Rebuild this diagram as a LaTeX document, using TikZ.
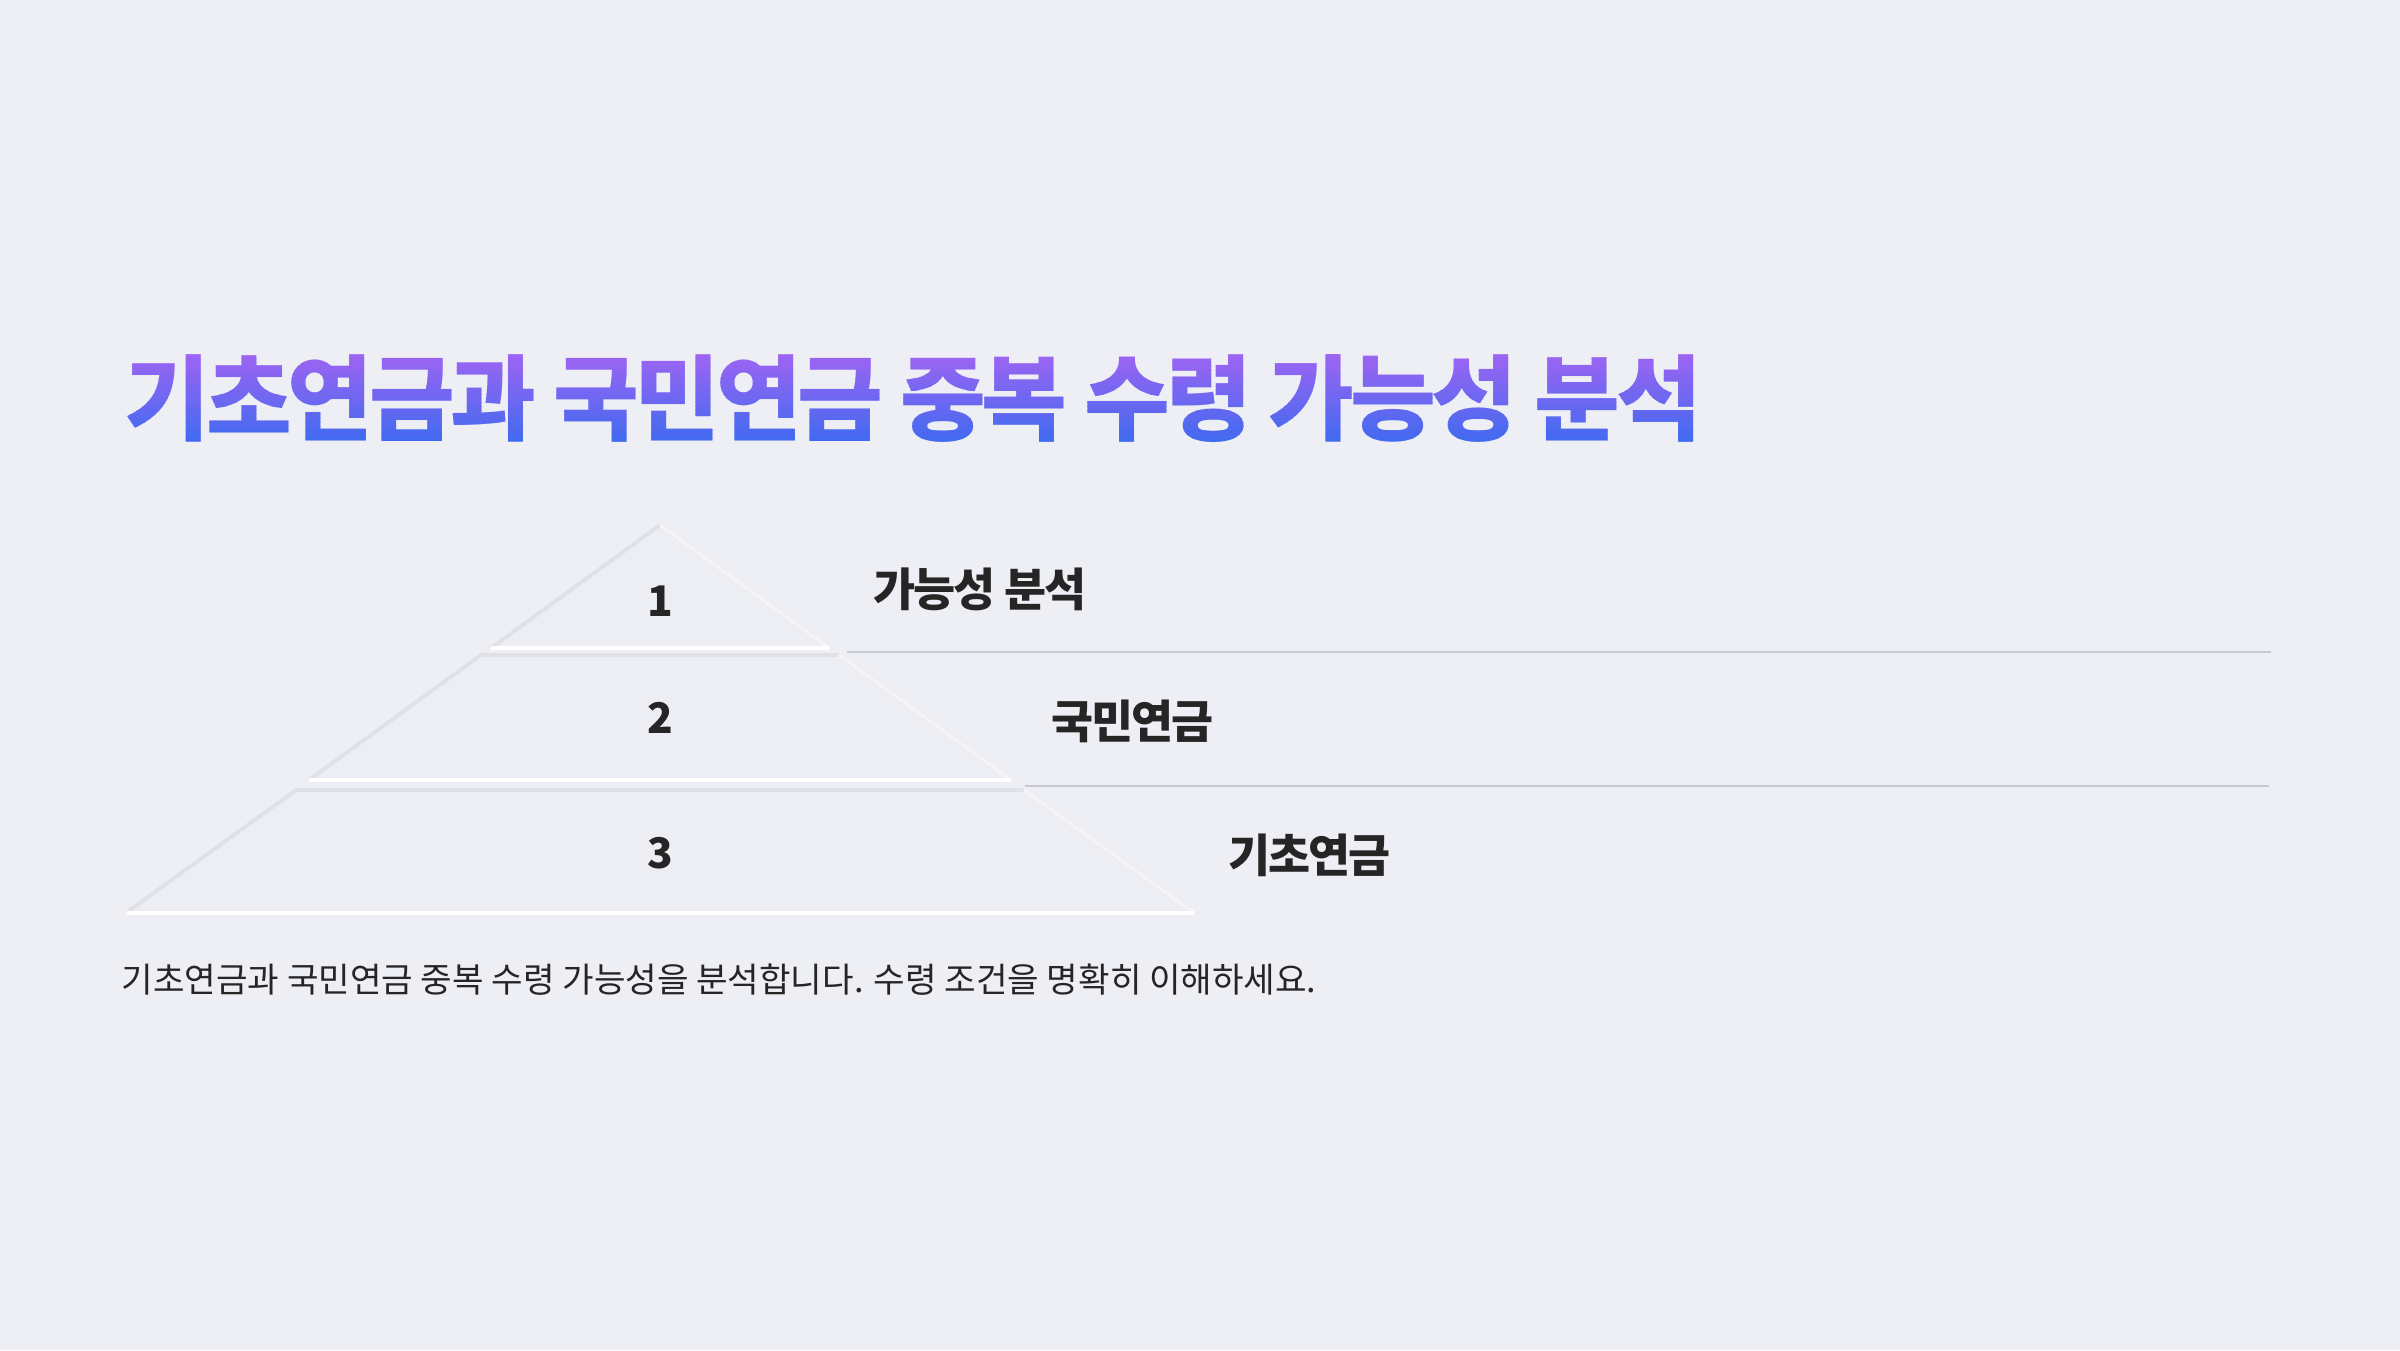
\documentclass[tikz,border=0pt]{standalone}
\usepackage{fontspec}
\setmainfont{Noto Sans CJK KR}
\newfontfamily\krtight[LetterSpace=-4.6]{Noto Sans CJK KR}
\newfontfamily\krlabel[LetterSpace=-4.5]{Noto Sans CJK KR}
\newfontfamily\krnormal{Noto Sans CJK KR}
\definecolor{bgc}{HTML}{EEEFF4}
\definecolor{tierfill}{HTML}{EDEEF3}
\definecolor{tiershade}{HTML}{E0E1E7}
\definecolor{tierlight}{HTML}{F5F5F8}
\definecolor{rulec}{HTML}{C8C9D4}
\definecolor{inkc}{HTML}{252525}
\definecolor{gradtop}{HTML}{A464F2}
\definecolor{gradbot}{HTML}{3E6AF0}
\tikzset{
  titletext/.style={anchor=base west, inner sep=0pt, font=\krtight\bfseries\fontsize{26.5}{30}\selectfont},
  numtext/.style={anchor=base, inner sep=0pt, text=inkc, font=\krnormal\bfseries\fontsize{12}{14}\selectfont},
  labtext/.style={anchor=base west, inner sep=0pt, text=inkc, font=\krlabel\bfseries\fontsize{13}{15}\selectfont},
  bodytext/.style={anchor=base west, inner sep=0pt, text=inkc, font=\krnormal\fontsize{9.75}{12}\selectfont},
  rule/.style={draw=rulec, line width=0.6pt},
  tierbody/.style={fill=tierfill},
  tierglow/.style={fill=tierlight},
  tiertop/.style={draw=tiershade, line width=1.1pt},
  tierbottom/.style={draw=white, line width=1.2pt},
}
\begin{document}
\begin{tikzpicture}[x=0.01cm, y=-0.01cm]
\useasboundingbox[fill=bgc] (0,0) rectangle (2400,1350);

% title: vertical gradient built from clipped horizontal bands
\foreach \i in {0,...,24}{
  \pgfmathsetmacro{\ytop}{346+4*\i}
  \pgfmathsetmacro{\ybot}{346+4*\i+4.6}
  \pgfmathtruncatemacro{\pc}{round(100*\i/24)}
  \begin{scope}
    \clip (0,\ytop) rectangle (2400,\ybot);
    \node[titletext, text=gradbot!\pc!gradtop] at (124,433)
      {기초연금과 국민연금 중복 수령 가능성 분석};
  \end{scope}
}

% pyramid corners
\coordinate (apex) at (660,525);
\coordinate (t1bl) at (491,648); \coordinate (t1br) at (829,648);
\coordinate (t2tl) at (481,655); \coordinate (t2tr) at (839,655);
\coordinate (t2bl) at (309,780); \coordinate (t2br) at (1011,780);
\coordinate (t3tl) at (296,790); \coordinate (t3tr) at (1024,790);
\coordinate (t3bl) at (126,913); \coordinate (t3br) at (1194,913);

% glow below tiers
\begin{scope}[yshift=-0.07cm]
  \fill[tierglow] (apex) -- (t1br) -- (t1bl) -- cycle;
  \fill[tierglow] (t2tl) -- (t2tr) -- (t2br) -- (t2bl) -- cycle;
  \fill[tierglow] (t3tl) -- (t3tr) -- (t3br) -- (t3bl) -- cycle;
\end{scope}
% tier bodies
\fill[tierbody] (apex) -- (t1br) -- (t1bl) -- cycle;
\fill[tierbody] (t2tl) -- (t2tr) -- (t2br) -- (t2bl) -- cycle;
\fill[tierbody] (t3tl) -- (t3tr) -- (t3br) -- (t3bl) -- cycle;
% edges
\draw[tiertop] (t1bl) -- (apex);
\draw[tiertop] (t2bl) -- (t2tl) -- (t2tr);
\draw[tiertop] (t3bl) -- (t3tl) -- (t3tr);
\draw[draw=tierlight, line width=0.8pt] (apex) -- (t1br);
\draw[draw=tierlight, line width=0.8pt] (t2tr) -- (t2br);
\draw[draw=tierlight, line width=0.8pt] (t3tr) -- (t3br);
\draw[tierbottom] (t1bl) -- (t1br);
\draw[tierbottom] (t2bl) -- (t2br);
\draw[tierbottom] (t3bl) -- (t3br);

% numbers
\node[numtext] (n1) at (660,616) {1};
\node[numtext] (n2) at (660,733) {2};
\node[numtext] (n3) at (660,868) {3};

% labels
\node[labtext] (lab1) at (873,606) {가능성 분석};
\node[labtext] (lab2) at (1051,738) {국민연금};
\node[labtext] (lab3) at (1228,872) {기초연금};

% separator rules
\coordinate (r1s) at (847,652); \coordinate (r1e) at (2271,652);
\coordinate (r2s) at (1025,786); \coordinate (r2e) at (2269,786);
\draw[rule] (r1s) -- (r1e);
\draw[rule] (r2s) -- (r2e);

% body text
\node[bodytext] (body) at (121,992)
  {기초연금과 국민연금 중복 수령 가능성을 분석합니다. 수령 조건을 명확히 이해하세요.};
\end{tikzpicture}
\end{document}
